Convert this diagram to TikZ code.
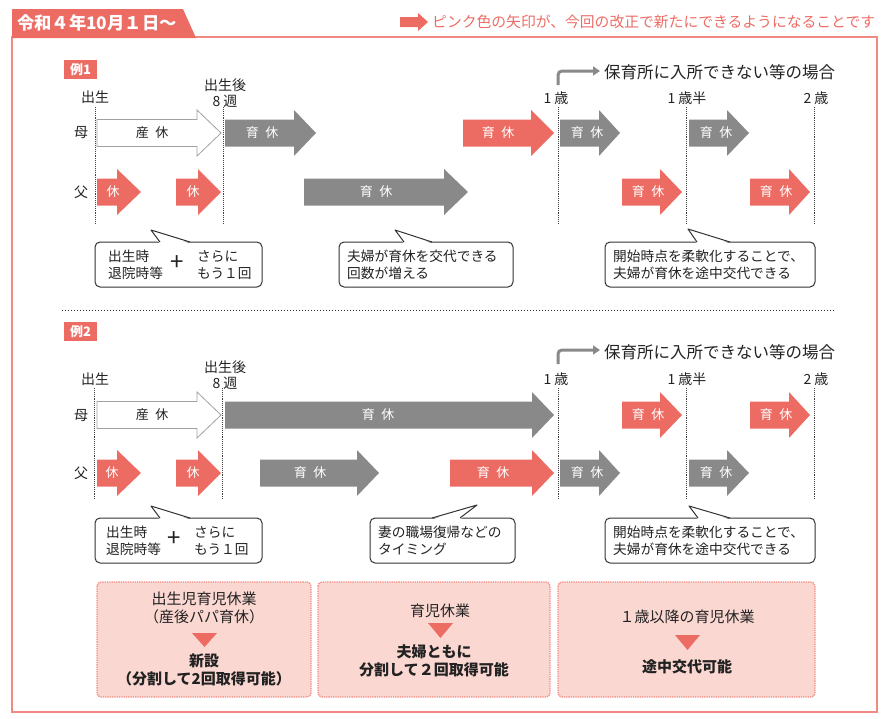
\documentclass[tikz,border=0pt]{standalone}
\usepackage{fontspec}
\setmainfont{Noto Sans CJK JP}
\usetikzlibrary{arrows.meta}
\definecolor{cred}{HTML}{EC6C64}
\definecolor{cgray}{HTML}{898989}
\definecolor{cframe}{HTML}{F08A82}
\definecolor{cpink}{HTML}{FBD7D1}
\definecolor{ctext}{HTML}{222222}
\newcommand\fs[1]{\fontsize{#1}{#1}\selectfont}
% name, x1, head start, tip, y, style, text x, text
\newcommand\barrow[8]{%
  \path[#6] (#2,#5-13.5) -- (#3,#5-13.5) -- (#3,#5-23) -- (#4,#5) -- (#3,#5+23) -- (#3,#5+13.5) -- (#2,#5+13.5) -- cycle;
  \node[arrtxt] (#1) at (#7,#5) {#8};}
% name, x1, y1, x2, y2, apex x, apex y, base1, base2
\newcommand\callout[9]{%
  \draw[callbox] (#2,#3) rectangle (#4,#5);
  \fill[white] (#8,#3+1.5) -- (#6,#7) -- (#9,#3+1.5) -- cycle;
  \draw[black!80, line width=1pt, line join=round] (#8,#3) -- (#6,#7) -- (#9,#3);
  \coordinate (#1) at (#6,#7);}
\begin{document}
\begin{tikzpicture}[x=1pt,y=-1pt,
  arrtxt/.style={text=white, font=\fs{13}, inner sep=0},
  redarr/.style={fill=cred},
  grayarr/.style={fill=cgray},
  whitearr/.style={fill=white, draw=cgray!80, line width=0.8pt},
  lbl/.style={font=\fs{14}, text=ctext, inner sep=0},
  vline/.style={densely dotted, line width=0.9pt, black!75},
  callbox/.style={draw=black!80, line width=1pt, rounded corners=5pt, fill=white},
  ctxt/.style={font=\fontsize{13.7}{17}\selectfont, text=ctext, align=left, inner sep=0, anchor=west},
  plus/.style={font=\fs{24}, text=ctext, inner sep=0},
  pbox/.style={draw=cframe, densely dotted, line width=1.3pt, fill=cpink, rounded corners=4pt},
  ptxt/.style={font=\fontsize{15}{18}\selectfont, text=ctext, align=center, inner sep=0},
  ptri/.style={fill=cred},
  bent/.style={draw=cgray, line width=3pt, rounded corners=4pt, -{Triangle[length=7pt,width=9pt]}},
  rei/.style={fill=cred, text=white, font=\bfseries\fs{13}, inner sep=0, minimum width=33pt, minimum height=19pt}
]
\useasboundingbox (0,0) rectangle (884,718);
% frame and header
\draw[cframe, line width=1.6pt] (12,37) rectangle (877,712);
\fill[cred] (12,9) -- (183,9) -- (196,38) -- (12,38) -- cycle;
\node[text=white, font=\bfseries\fs{17.3}, anchor=west, inner sep=0] (hdr) at (17,23) {令和４年10月１日～};
\path[redarr] (400,17) -- (418,17) -- (418,13) -- (428,22) -- (418,31) -- (418,27) -- (400,27) -- cycle;
\node[text=cred, font=\fs{14.8}, anchor=west, inner sep=0] (legend) at (432,22) {ピンク色の矢印が、今回の改正で新たにできるようになることです};

% ===== Example 1 =====
\node[rei] (rei1) at (80.5,69.5) {例1};
\node[lbl] (t0a) at (95,97) {出生};
\node[lbl, align=center, font=\fontsize{14}{16}\selectfont] (t8a) at (225,93) {出生後\\8\hspace{0.2em}週};
\node[lbl] (t1a) at (556,98) {1\hspace{0.2em}歳};
\node[lbl] (t15a) at (687,98) {1\hspace{0.2em}歳半};
\node[lbl] (t2a) at (816,98) {2\hspace{0.2em}歳};
\draw[vline] (95,107) -- (95,223);
\draw[vline] (223,107) -- (223,223);
\draw[vline] (558,107) -- (558,223);
\draw[vline] (686,107) -- (686,223);
\draw[vline] (814,107) -- (814,223);
\coordinate (b1s) at (558,85);
\coordinate (b1e) at (600,71);
\draw[bent] (b1s) |- (b1e);
\node[lbl, font=\fs{16.5}, anchor=west] (hoiku1) at (604,72) {保育所に入所できない等の場合};
\node[lbl] (haha1) at (81,133) {母};
\node[lbl] (chichi1) at (81,192) {父};
\barrow{a1m1}{97}{197}{221}{133}{whitearr}{152}{\textcolor{ctext}{産\hspace{0.5em}休}}
\barrow{a1m2}{225}{294}{316}{133}{grayarr}{262}{育\hspace{0.5em}休}
\barrow{a1m3}{463}{531}{554}{133}{redarr}{498}{育\hspace{0.5em}休}
\barrow{a1m4}{560}{599}{620}{133}{grayarr}{587}{育\hspace{0.5em}休}
\barrow{a1m5}{689}{727}{749}{133}{grayarr}{716}{育\hspace{0.5em}休}
\barrow{a1f1}{97}{117}{141}{192}{redarr}{113}{休}
\barrow{a1f2}{176}{198}{221}{192}{redarr}{193}{休}
\barrow{a1f3}{304}{444}{468}{192}{grayarr}{376}{育\hspace{0.5em}休}
\barrow{a1f4}{622}{660}{682}{192}{redarr}{648}{育\hspace{0.5em}休}
\barrow{a1f5}{750}{789}{810}{192}{redarr}{776}{育\hspace{0.5em}休}
\callout{c1a}{95}{242}{262}{287}{151}{230}{160}{190}
\node[ctxt] (c1aL) at (108,265) {出生時\\退院時等};
\node[plus] (c1aP) at (177,263) {+};
\node[ctxt] (c1aR) at (197,265) {さらに\\もう１回};
\callout{c2a}{339}{242}{513}{287}{395}{230}{404}{432}
\node[ctxt] (c2aT) at (347,265) {夫婦が育休を交代できる\\回数が増える};
\callout{c3a}{605}{242}{815}{287}{688}{229}{697}{730}
\node[ctxt] (c3aT) at (613,265) {開始時点を柔軟化することで、\\夫婦が育休を途中交代できる};

% separator
\draw[dotted, line width=1pt, black!80] (62,310) -- (835,310);

% ===== Example 2 =====
\node[rei] (rei2) at (80.5,331.5) {例2};
\node[lbl] (t0b) at (95,379) {出生};
\node[lbl, align=center, font=\fontsize{14}{16}\selectfont] (t8b) at (225,375) {出生後\\8\hspace{0.2em}週};
\node[lbl] (t1b) at (556,379) {1\hspace{0.2em}歳};
\node[lbl] (t15b) at (687,379) {1\hspace{0.2em}歳半};
\node[lbl] (t2b) at (816,379) {2\hspace{0.2em}歳};
\draw[vline] (94,388) -- (94,500);
\draw[vline] (222,388) -- (222,500);
\draw[vline] (558,388) -- (558,500);
\draw[vline] (686,388) -- (686,500);
\draw[vline] (814,388) -- (814,500);
\coordinate (b2s) at (558,364);
\coordinate (b2e) at (600,350);
\draw[bent] (b2s) |- (b2e);
\node[lbl, font=\fs{16.5}, anchor=west] (hoiku2) at (604,352) {保育所に入所できない等の場合};
\node[lbl] (haha2) at (81,416) {母};
\node[lbl] (chichi2) at (81,473) {父};
\barrow{a2m1}{97}{197}{221}{415}{whitearr}{152}{\textcolor{ctext}{産\hspace{0.5em}休}}
\barrow{a2m2}{225}{532}{554}{415}{grayarr}{378}{育\hspace{0.5em}休}
\barrow{a2m3}{622}{660}{682}{415}{redarr}{648}{育\hspace{0.5em}休}
\barrow{a2m4}{750}{789}{810}{415}{redarr}{776}{育\hspace{0.5em}休}
\barrow{a2f1}{97}{117}{141}{473}{redarr}{112}{休}
\barrow{a2f2}{176}{198}{221}{473}{redarr}{193}{休}
\barrow{a2f3}{260}{357}{379}{473}{grayarr}{310}{育\hspace{0.5em}休}
\barrow{a2f4}{450}{532}{554}{473}{redarr}{493}{育\hspace{0.5em}休}
\barrow{a2f5}{560}{599}{620}{473}{grayarr}{587}{育\hspace{0.5em}休}
\barrow{a2f6}{689}{727}{749}{473}{grayarr}{716}{育\hspace{0.5em}休}
\callout{c1b}{95}{518}{262}{563}{151}{506}{160}{190}
\node[ctxt] (c1bL) at (106,541) {出生時\\退院時等};
\node[plus] (c1bP) at (174,539) {+};
\node[ctxt] (c1bR) at (194,541) {さらに\\もう１回};
\callout{c2b}{370}{518}{515}{563}{477}{505}{432}{460}
\node[ctxt] (c2bT) at (378,541) {妻の職場復帰などの\\タイミング};
\callout{c3b}{605}{518}{815}{563}{689}{506}{698}{730}
\node[ctxt] (c3bT) at (613,541) {開始時点を柔軟化することで、\\夫婦が育休を途中交代できる};

% ===== bottom boxes =====
\draw[pbox] (97,582) rectangle (311,697);
\node[ptxt] (p1a) at (204,608) {出生児育児休業\\（産後パパ育休）};
\path[ptri] (192,633) -- (217,633) -- (204.5,647) -- cycle;
\node[ptxt, font=\bfseries\fontsize{15}{18}\selectfont] (p1b) at (204,670) {新設\\（分割して2回取得可能）};

\draw[pbox] (318,582) rectangle (550,697);
\node[ptxt] (p2a) at (440,611) {育児休業};
\path[ptri] (428,623) -- (453,623) -- (440.5,638) -- cycle;
\node[ptxt, font=\bfseries\fontsize{15}{18}\selectfont] (p2b) at (434,661) {夫婦ともに\\分割して２回取得可能};

\draw[pbox] (558,582) rectangle (815,697);
\node[ptxt] (p3a) at (687,617) {１歳以降の育児休業};
\path[ptri] (675,635) -- (700,635) -- (687.5,650) -- cycle;
\node[ptxt, font=\bfseries\fontsize{15}{18}\selectfont] (p3b) at (687,667) {途中交代可能};
\end{tikzpicture}
\end{document}
